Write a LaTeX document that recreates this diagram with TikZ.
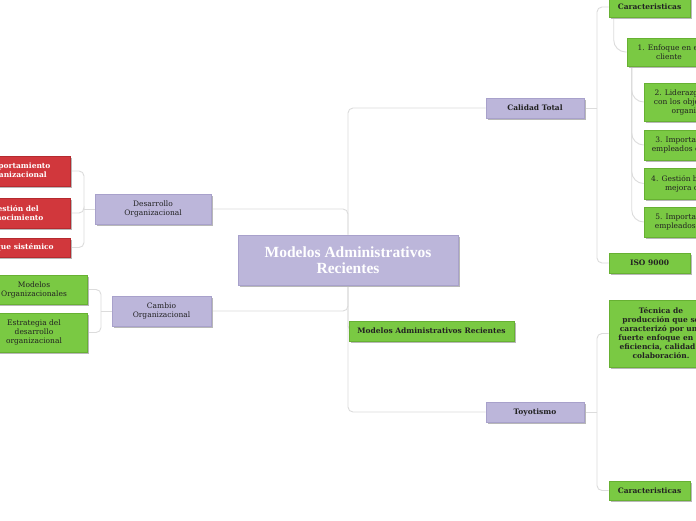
\documentclass[tikz,border=0pt]{standalone}
\usepackage{fontspec}
\setmainfont{DejaVu Serif}
\newfontfamily\titlefont{Liberation Serif}
\usetikzlibrary{backgrounds}
\definecolor{purp}{HTML}{BCB6DA}
\definecolor{purpD}{HTML}{A8A1CB}
\definecolor{grn}{HTML}{7AC943}
\definecolor{grnD}{HTML}{67B132}
\definecolor{rd}{HTML}{D1373C}
\definecolor{rdD}{HTML}{B52A2F}
\definecolor{conncol}{HTML}{DCDCDC}
\definecolor{txt}{HTML}{222222}
\tikzset{
  base/.style={rectangle, inner sep=0pt, align=center, line width=0.6pt,
    font=\fontsize{7.5}{9}\selectfont,
    preaction={fill=black!28, transform canvas={shift={(1.8pt,-1.8pt)}}}},
  purplebox/.style={base, fill=purp, draw=purpD, text=txt},
  greenbox/.style={base, fill=grn, draw=grnD, text=txt},
  redbox/.style={base, fill=rd, draw=rdD, text=white, font=\fontsize{7.5}{9}\selectfont\bfseries},
  bld/.style={font=\fontsize{7.5}{9}\selectfont\bfseries},
  conn/.style={draw=conncol, line width=0.9pt, rounded corners=5pt},
  curv/.style={draw=conncol, line width=0.9pt, rounded corners=12pt}
}
\begin{document}
\begin{tikzpicture}[x=1pt,y=-1pt]
\useasboundingbox (0,0) rectangle (696,520);
\clip (0,0) rectangle (696,520);

% central
\node[purplebox, minimum width=220pt, minimum height=50pt, text=white,
  font=\titlefont\bfseries\fontsize{15.5}{15.5}\selectfont] (central) at (348,260)
  {Modelos Administrativos\\Recientes};

% main children
\node[purplebox, minimum width=116pt, minimum height=30pt] (desarrollo) at (153,209) {Desarrollo\\Organizacional};
\node[purplebox, minimum width=99pt, minimum height=30pt] (cambio) at (161.5,311) {Cambio\\Organizacional};
\node[purplebox, bld, minimum width=98pt, minimum height=20pt] (calidad) at (535,108) {Calidad Total};
\node[greenbox, bld, minimum width=165pt, minimum height=20pt] (mar) at (431.5,331) {Modelos Administrativos Recientes};
\node[purplebox, bld, minimum width=98pt, minimum height=20pt] (toyotismo) at (535,412) {Toyotismo};

% left: desarrollo children
\node[redbox, minimum width=110pt, minimum height=30pt] (red1) at (15,171) {Comportamiento\\Organizacional};
\node[redbox, minimum width=110pt, minimum height=30pt] (red2) at (15,213) {Gestión del\\conocimiento};
\node[redbox, minimum width=110pt, minimum height=19pt] (red3) at (15,247.5) {Enfoque sistémico};

% left: cambio children
\node[greenbox, minimum width=106pt, minimum height=29pt] (mo) at (34,289.5) {Modelos\\Organizacionales};
\node[greenbox, minimum width=106pt, minimum height=39pt] (es) at (34,332.5) {Estrategia del\\desarrollo\\organizacional};

% right: calidad children
\node[greenbox, bld, minimum width=81pt, minimum height=20pt] (car1) at (649.5,7) {Caracteristicas};
\node[greenbox, minimum width=84pt, minimum height=28pt] (enf1) at (669,52) {1. Enfoque en el\\cliente};
\node[greenbox, minimum width=104pt, minimum height=38pt] (lid2) at (696,102) {2. Liderazgo alineado\\con los objetivos de la\\organización};
\node[greenbox, minimum width=104pt, minimum height=30pt] (imp3) at (696,145) {3. Importancia de los\\empleados capacitados};
\node[greenbox, minimum width=104pt, minimum height=31pt] (ges4) at (696,183.5) {4. Gestión basada en la\\mejora continua};
\node[greenbox, minimum width=104pt, minimum height=30pt] (imp5) at (696,222) {5. Importancia de los\\empleados motivados};
\node[greenbox, bld, minimum width=81pt, minimum height=20pt] (iso) at (649.5,263) {ISO 9000};

% right: toyotismo children
\node[greenbox, bld, minimum width=104pt, minimum height=67pt] (tec) at (661,333.5)
  {Técnica de\\producción que se\\caracterizó por una\\fuerte enfoque en la\\eficiencia, calidad y\\colaboración.};
\node[greenbox, bld, minimum width=81pt, minimum height=19pt] (car2) at (649.5,490.5) {Caracteristicas};

% junction coordinates
\coordinate (dj) at (84,209);
\coordinate (cj) at (101,311);
\coordinate (qj) at (597,108);
\coordinate (tj) at (597,412);
\coordinate (ej) at ([xshift=5pt]enf1.south west);
\coordinate (cq) at ([xshift=5pt]car1.south west);

\begin{scope}[on background layer]
  \fill[white] (0,0) rectangle (696,520);
  \draw[conn] (desarrollo.east) -| (central.north);
  \draw[conn] (cambio.east) -| (central.south);
  \draw[conn] (central.north) |- (calidad.west);
  \draw[conn] (central.south) |- (toyotismo.west);
  \draw[conn] (central.south) |- (mar.west);

  \draw[conn] (desarrollo.west) -- (dj);
  \draw[conn] (dj) |- (red1.east);
  \draw[conn] (dj) |- (red2.east);
  \draw[conn] (dj) |- (red3.east);

  \draw[conn] (cambio.west) -- (cj);
  \draw[conn] (cj) |- (mo.east);
  \draw[conn] (cj) |- (es.east);

  \draw[conn] (calidad.east) -- (qj);
  \draw[conn] (qj) |- (car1.west);
  \draw[conn] (qj) |- (iso.west);

  \draw[curv] (cq) |- (enf1.west);
  \draw[curv] (ej) |- (lid2.west);
  \draw[curv] (ej) |- (imp3.west);
  \draw[curv] (ej) |- (ges4.west);
  \draw[curv] (ej) |- (imp5.west);

  \draw[conn] (toyotismo.east) -- (tj);
  \draw[conn] (tj) |- (tec.west);
  \draw[conn] (tj) |- (car2.west);
\end{scope}
\end{tikzpicture}
\end{document}
